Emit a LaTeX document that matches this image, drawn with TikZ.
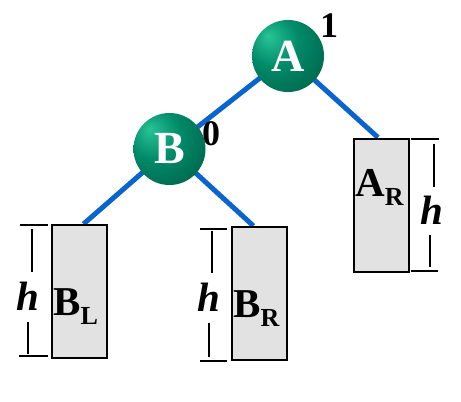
\documentclass[tikz,border=0pt]{standalone}
\usepackage{fontspec}
\setmainfont{Liberation Serif}
\usetikzlibrary{backgrounds,calc}
\definecolor{edgeblue}{RGB}{10,100,205}
\definecolor{gA}{RGB}{40,195,150}
\definecolor{gB}{RGB}{0,138,104}
\definecolor{gC}{RGB}{0,90,68}
\definecolor{marble}{RGB}{226,226,226}
\pgfdeclareradialshading{greenball}{\pgfpoint{-14bp}{14bp}}{color(0bp)=(gA); color(18bp)=(gB); color(44bp)=(gC); color(70bp)=(gC)}
\tikzset{
  ball/.style={circle, minimum size=72pt, inner sep=0pt, shading=greenball, text=white,
    font=\fontsize{46}{46}\selectfont\bfseries},
  subtree/.style={draw=black, line width=2pt, fill=marble, minimum width=55pt, minimum height=133pt, inner sep=0pt},
  edge/.style={draw=edgeblue, line width=5pt},
  dim/.style={draw=black, line width=2pt},
  lab/.style={inner sep=0pt, anchor=base west, font=\fontsize{41}{41}\selectfont\bfseries},
  digit/.style={inner sep=0pt, font=\fontsize{36}{36}\selectfont\bfseries},
  hlab/.style={inner sep=0pt, font=\fontsize{41}{41}\selectfont\bfseries\itshape}
}
\newcommand{\subl}[1]{\raisebox{-9pt}{\fontsize{26}{26}\selectfont #1}}
\begin{document}
\begin{tikzpicture}[x=1pt,y=-1pt]
\useasboundingbox (0,0) rectangle (461,402);
% subtrees
\node[subtree] (BL) at (79.5,291.5) {};
\node[subtree] (BR) at (259.5,293.5) {};
\node[subtree] (AR) at (381,205) {};
% tree nodes
\node[ball] (A) at (288,56) {A};
\node[ball] (B) at (169.5,149) {B};
% edges
\begin{scope}[on background layer]
\fill[white] (0,0) rectangle (461,402);
\draw[edge] (A.center) -- (B.center);
\draw[edge] (A.center) -- ($(AR.north)+(-3,0)$);
\draw[edge] (B.center) -- ($(BL.north)+(4,0)$);
\draw[edge] (B.center) -- ($(BR.north)+(-6,0)$);
\end{scope}
% balance factors
\node[digit] (fA) at (329,26) {1};
\node[digit] (fB) at (211,134) {0};
% subtree labels
\node[lab] (tBL) at (53,315) {B\subl{L}};
\node[lab] (tBR) at (233,317) {B\subl{R}};
\node[lab] (tAR) at (355,196) {A\subl{R}};
% heights
\node[hlab] (hBL) at (28,296) {h};
\node[hlab] (hBR) at (209,297) {h};
\node[hlab] (hAR) at (432,210) {h};
% dimension lines
\draw[dim] (20,225) -- (48,225);
\draw[dim] (19,356) -- (48,356);
\draw[dim] (32,229) -- (32,272);
\draw[dim] (28,322) -- (28,354);
\draw[dim] (200,229) -- (227,229);
\draw[dim] (200,361) -- (227,361);
\draw[dim] (212,231) -- (212,273);
\draw[dim] (209,323) -- (209,357);
\draw[dim] (411,139) -- (439,139);
\draw[dim] (411,271) -- (438,271);
\draw[dim] (434,144) -- (434,187);
\draw[dim] (430,235) -- (430,267);
\end{tikzpicture}
\end{document}
